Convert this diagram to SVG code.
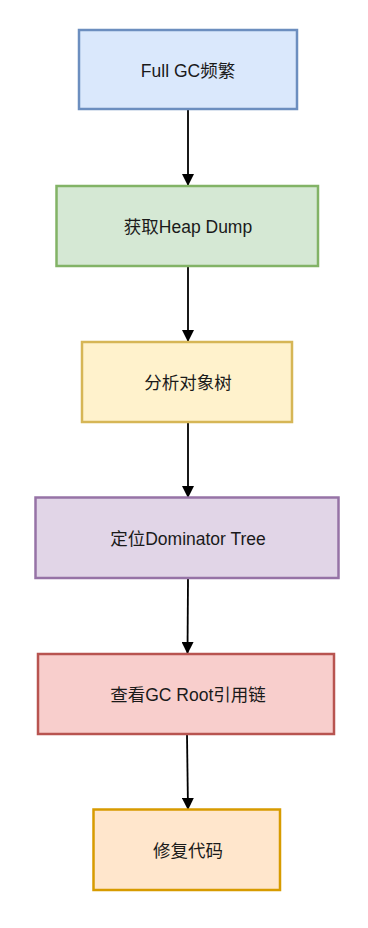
<svg xmlns="http://www.w3.org/2000/svg" width="368" height="928" viewBox="0 0 368 928">
<defs>
<marker id="arr" viewBox="0 0 12 12" refX="11" refY="6" markerWidth="12" markerHeight="12" markerUnits="userSpaceOnUse" orient="auto">
<path d="M0,0 L12,6 L0,12 Z" fill="#000"/>
</marker>
<style>
.n rect{stroke-width:2.5}
.n text{font-family:"Liberation Sans","Noto Sans CJK SC",sans-serif;font-size:17.5px;fill:#1a1a1a;text-anchor:middle;dominant-baseline:central}
.c path{stroke:#000;stroke-width:1.8;fill:none;marker-end:url(#arr)}
</style>
</defs>
<rect width="368" height="928" fill="#fff"/>
<g class="c" id="connectors">
<path d="M188,110 L188,185"/>
<path d="M188,267 L188,341"/>
<path d="M188,423 L188,497"/>
<path d="M188,579 L187.5,653"/>
<path d="M187,735 L188,809"/>
</g>
<g class="n" id="n1"><rect x="79" y="30" width="218" height="79" fill="#dae8fc" stroke="#6c8ebf"/><text x="188" y="71">Full GC频繁</text></g>
<g class="n" id="n2"><rect x="56.5" y="186" width="261.5" height="80" fill="#d5e8d4" stroke="#82b366"/><text x="188" y="227">获取Heap Dump</text></g>
<g class="n" id="n3"><rect x="82" y="342" width="210" height="80" fill="#fff2cc" stroke="#d6b656"/><text x="188" y="383">分析对象树</text></g>
<g class="n" id="n4"><rect x="35.5" y="497.5" width="303" height="80.5" fill="#e1d5e7" stroke="#9673a6"/><text x="188" y="539">定位Dominator Tree</text></g>
<g class="n" id="n5"><rect x="38" y="654" width="296" height="80" fill="#f8cecc" stroke="#b85450"/><text x="188" y="695">查看GC Root引用链</text></g>
<g class="n" id="n6"><rect x="93.5" y="809.5" width="186.5" height="80.5" fill="#ffe6cc" stroke="#d79b00"/><text x="188" y="851">修复代码</text></g>
</svg>
